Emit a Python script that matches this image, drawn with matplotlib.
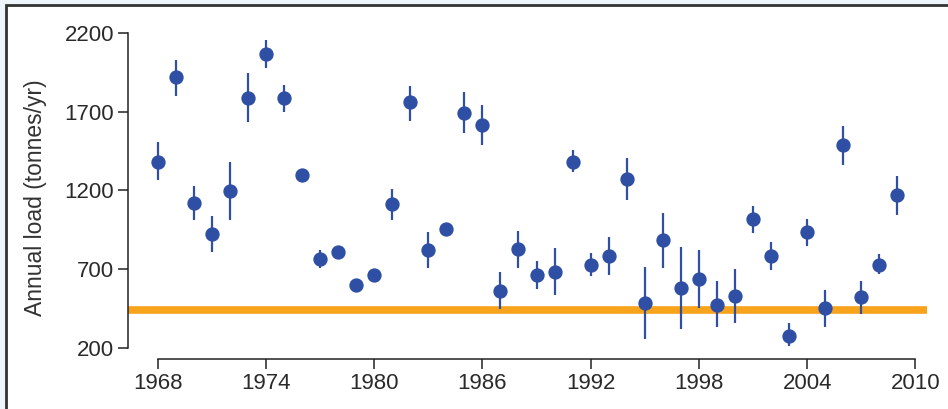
import numpy as np
from matplotlib import pyplot as plt
from matplotlib.patches import Rectangle

plt.rcParams['font.family'] = ['Liberation Sans', 'DejaVu Sans']

# annual load estimates with error bar ends (tonnes/yr)
years = np.arange(1968, 2010)
load = [1380, 1920, 1120, 925, 1195, 1785, 2065, 1785, 1300, 765,
        810, 600, 665, 1115, 1760, 820, 955, 1690, 1615, 560,
        830, 665, 685, 1380, 725, 785, 1275, 485, 885, 580,
        640, 475, 530, 1020, 785, 275, 935, 455, 1490, 525,
        725, 1170]
err_hi = [1510, 2030, 1230, 1040, 1380, 1945, 2155, 1870, 1300, 820,
          810, 600, 665, 1210, 1865, 935, 955, 1825, 1745, 685,
          945, 755, 835, 1460, 805, 905, 1405, 715, 1055, 840,
          820, 625, 700, 1100, 875, 360, 1020, 570, 1610, 625,
          795, 1290]
err_lo = [1265, 1800, 1015, 810, 1015, 1635, 1980, 1700, 1300, 710,
          810, 600, 665, 1015, 1640, 710, 955, 1565, 1490, 450,
          710, 575, 535, 1315, 655, 665, 1140, 255, 710, 320,
          455, 335, 360, 930, 695, 215, 850, 335, 1360, 415,
          670, 1045]
target = 440

fig = plt.figure(figsize=(9.48, 4.09), dpi=100)
fig.patch.set_facecolor('#eef5fb')
fig.patches.append(Rectangle((6/948, -0.05), 1.1, (409-5)/409 + 0.05,
                             transform=fig.transFigure, facecolor='white',
                             edgecolor='#333333', linewidth=2, zorder=-10))

ax = fig.add_axes([128/948, 50/409, 799/948, 330/409])
ax.set_facecolor('none')

ax.axhline(target, color='#f7a31c', linewidth=5.5, zorder=1)

load = np.array(load)
yerr = [load - np.array(err_lo), np.array(err_hi) - load]
ax.errorbar(years, load, yerr=yerr, fmt='o', color='#2f4fa5', ms=9.3,
            elinewidth=1.6, capsize=0, zorder=3)

ax.set_xlim(1966.36, 2010.64)
ax.set_ylim(130, 2225)
ax.set_xticks(np.arange(1968, 2011, 6))
ax.set_yticks(np.arange(200, 2201, 500))

for s in ['top', 'right']:
    ax.spines[s].set_visible(False)
ax.spines['left'].set_bounds(200, 2200)
ax.spines['bottom'].set_bounds(1968, 2010)
for s in ['left', 'bottom']:
    ax.spines[s].set_color('#222222')
    ax.spines[s].set_linewidth(1.1)
ax.tick_params(direction='out', length=7, width=1.1, color='#222222',
               labelsize=16, labelcolor='#2a2a2a', pad=3)

ax.set_ylabel('Annual load (tonnes/yr)', fontsize=16.5, color='#333333')
ax.yaxis.set_label_coords(-0.102, 0.49)

plt.savefig('out.png', dpi=100)
